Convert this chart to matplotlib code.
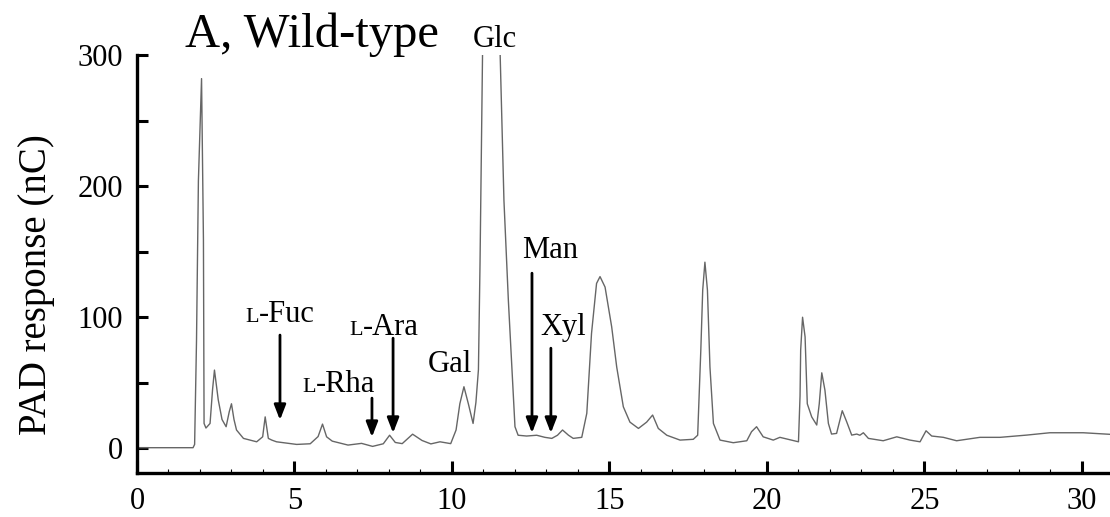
import matplotlib.pyplot as plt
from matplotlib.ticker import MultipleLocator

plt.rcParams['font.family'] = ['Liberation Serif', 'DejaVu Serif']

# trace (retention time in min, PAD response in nC)
time_min = [0.0, 1.0, 1.78, 1.83, 1.89, 1.95, 2.05, 2.11, 2.13, 2.19, 2.32, 2.40, 2.46, 2.58,
            2.70, 2.83, 2.93, 3.0, 3.08, 3.16, 3.38, 3.8, 3.99, 4.07, 4.17, 4.28, 4.43, 5.07,
            5.5, 5.75, 5.89, 6.02, 6.2, 6.7, 7.13, 7.48, 7.82, 8.02, 8.2, 8.42, 8.75, 9.05,
            9.33, 9.62, 9.96, 10.13, 10.25, 10.38, 10.52, 10.67, 10.76, 10.84, 10.89, 10.97,
            11.05, 11.45, 11.53, 11.65, 11.79, 11.9, 12.0, 12.1, 12.37, 12.69, 12.95, 13.17,
            13.35, 13.51, 13.7, 13.85, 14.12, 14.28, 14.43, 14.59, 14.7, 14.86, 15.07, 15.23,
            15.44, 15.65, 15.92, 16.18, 16.37, 16.55, 16.82, 17.24, 17.66, 17.8, 17.9, 17.96,
            18.03, 18.11, 18.19, 18.3, 18.51, 18.93, 19.36, 19.51, 19.67, 19.88, 20.2, 20.41,
            21.0, 21.05, 21.07, 21.13, 21.21, 21.28, 21.42, 21.58, 21.66, 21.74, 21.84, 21.95,
            22.05, 22.21, 22.39, 22.53, 22.69, 22.85, 22.95, 23.06, 23.22, 23.69, 24.12, 24.54,
            24.86, 25.05, 25.23, 25.6, 26.02, 26.34, 26.76, 27.4, 28.24, 28.98, 30.04, 30.89]
pad_nC = [0.5, 0.5, 0.5, 3, 82, 204, 282, 159, 19, 15.5, 19, 45, 59.7, 37,
          22, 16.5, 28, 34, 22, 14, 7.6, 5, 8.8, 24, 7.6, 6.3, 5, 3,
          3.5, 9, 18.5, 8.8, 5.5, 2.5, 3.8, 1.5, 3.5, 10, 4.5, 3.6, 10.8, 6,
          3.4, 5, 3.6, 14, 34, 47, 34, 19, 35, 60, 140, 300,
          345, 345, 300, 189, 113, 62, 16.5, 10, 9.4, 10, 8.4, 7.6,
          10, 14, 10, 7.6, 8.4, 26.7, 87.6, 125.8, 131, 123, 92.7, 62,
          31.7, 20, 15.2, 20, 25.4, 15.2, 10, 6.3, 6.9, 10, 75, 120.7,
          142, 120.7, 62, 19, 6.3, 4.3, 5.8, 12.7, 16.5, 8.8, 6.3, 8.4,
          5, 40, 75, 100, 85, 34, 24, 17.8, 34, 57.6, 44.4, 19,
          10.9, 11.4, 28.7, 20.3, 10.1, 10.9, 10, 11.9, 7.6, 5.8, 8.8, 6.3,
          5, 13.4, 9.4, 8.4, 5.8, 6.9, 8.4, 8.4, 10.1, 11.9, 11.9, 10.7]

# peak labels: (text, x centre, baseline y)
plain_labels = [('Gal', 9.94, 58), ('Glc', 11.37, 306), ('Man', 13.11, 145), ('Xyl', 13.52, 86.4)]
lsugar_labels = [('-Fuc', 4.54, 96.3), ('-Rha', 6.35, 43), ('-Ara', 7.84, 86.4)]
# arrows: (x, y start, y tip)
arrows = [(4.54, 86.4, 21.6), (7.46, 38.3, 8.6), (8.13, 84, 11.7), (12.54, 133.6, 11.7), (13.14, 76.4, 11.7)]

fig = plt.figure(figsize=(11.1, 5.17), dpi=100)
ax = fig.add_axes([0.1234, 0.0851, 0.8766, 0.8085])

ax.plot(time_min, pad_nC, color='0.4', lw=1.0)

ax.set_xlim(0, 30.89)
ax.set_ylim(-18.8, 300)
for s in ['top', 'right']:
    ax.spines[s].set_visible(False)
for s in ['left', 'bottom']:
    ax.spines[s].set_linewidth(2.4)

ax.xaxis.set_major_locator(MultipleLocator(5))
ax.xaxis.set_minor_locator(MultipleLocator(1))
ax.yaxis.set_major_locator(MultipleLocator(100))
ax.yaxis.set_minor_locator(MultipleLocator(50))
ax.tick_params(axis='x', which='major', direction='in', length=9, width=2.2, labelsize=22, pad=10)
ax.tick_params(axis='x', which='minor', direction='in', length=3, width=0.8)
ax.tick_params(axis='y', which='both', direction='in', length=8, width=2.2, labelsize=22, pad=10)
ax.set_ylabel('PAD response (nC)', fontsize=28)
ax.yaxis.set_label_coords(-0.084, 0.45)

ax.text(1.52, 306, 'A, Wild-type', fontsize=35, ha='left', va='baseline', clip_on=False)

for txt, xc, yb in plain_labels:
    ax.text(xc, yb, txt, fontsize=22, ha='center', va='baseline', clip_on=False)

for txt, xc, yb in lsugar_labels:
    wl = 0.611 * 16
    wr = 1.85 * 22
    dx = (wl - wr) / 2
    ax.annotate('L', (xc, yb), xytext=(dx, 0), textcoords='offset points',
                fontsize=16, ha='right', va='baseline')
    ax.annotate(txt, (xc, yb), xytext=(dx, 0), textcoords='offset points',
                fontsize=22, ha='left', va='baseline')

for xa, y0, y1 in arrows:
    ax.annotate('', xy=(xa, y1), xytext=(xa, y0),
                arrowprops=dict(arrowstyle='-|>,head_width=0.35,head_length=0.9',
                                color='black', lw=2, shrinkA=0, shrinkB=0))

fig.savefig('out.png', dpi=100)
